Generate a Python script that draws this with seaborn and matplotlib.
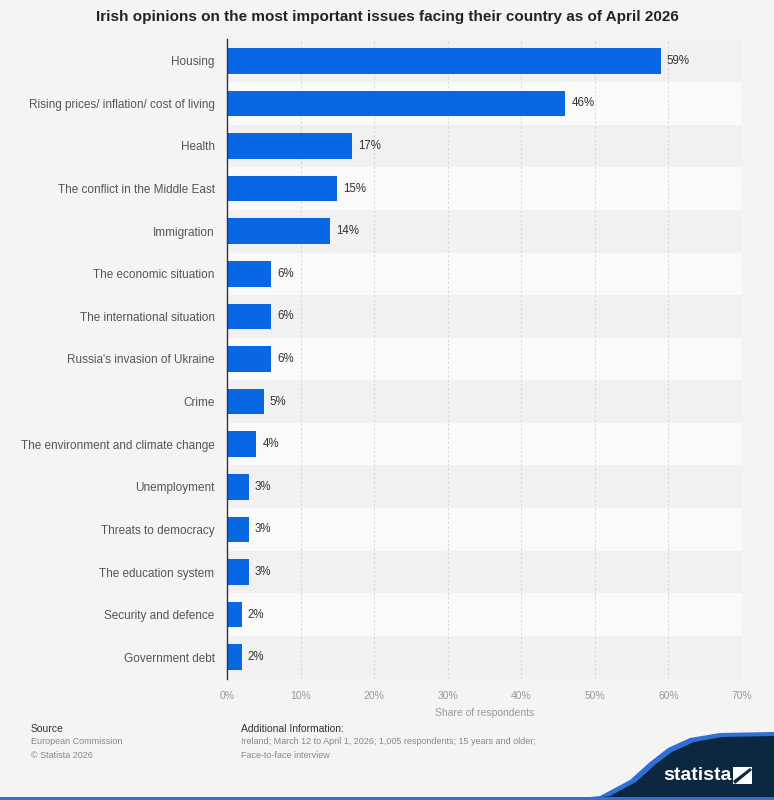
"""Irish opinions on most important issues - statista style horizontal bar chart"""
import matplotlib as mpl
mpl.use('Agg')
import matplotlib.pyplot as plt
from matplotlib.patches import Polygon, Rectangle
import numpy as np
import pandas as pd
import seaborn as sns

issues = ['Housing', 'Rising prices/ inflation/ cost of living', 'Health',
          'The conflict in the Middle East', 'Immigration', 'The economic situation',
          'The international situation', "Russia's invasion of Ukraine", 'Crime',
          'The environment and climate change', 'Unemployment', 'Threats to democracy',
          'The education system', 'Security and defence', 'Government debt']
shares = [59, 46, 17, 15, 14, 6, 6, 6, 5, 4, 3, 3, 3, 2, 2]
x_ticks = [0, 10, 20, 30, 40, 50, 60, 70]

df = pd.DataFrame({'issue': issues, 'share': shares})

sns.set_theme(style='white')
plt.rcParams.update({'font.family': ['Liberation Sans', 'DejaVu Sans'],
                     'font.size': 8})

bg = '#f4f4f4'
bar_blue = '#0868e4'

fig = plt.figure(figsize=(7.74, 8.0), dpi=100, facecolor=bg)
ax = fig.add_axes([227 / 774, 1 - 678.5 / 800, (742 - 227) / 774, (678.5 - 39.5) / 800])
ax.set_facecolor(bg)

# alternating row bands
for i in range(len(issues)):
    ax.axhspan(i - 0.5, i + 0.5, color='#f1f1f1' if i % 2 == 0 else '#fafafa', lw=0, zorder=0)

sns.barplot(data=df, x='share', y='issue', orient='h', color=bar_blue, width=0.6,
            saturation=1, linewidth=0, ax=ax, zorder=3)

for i, v in enumerate(shares):
    ax.text(v + 0.8, i, f'{v}%', va='center', ha='left', fontsize=8.3,
            color='#333333', zorder=4)

ax.set_xlim(0, 70)
ax.set_ylim(len(issues) - 0.5, -0.5)
ax.set_xticks(x_ticks)
ax.set_xticklabels([f'{t}%' for t in x_ticks], color='#999999', fontsize=7.5)
ax.tick_params(axis='x', length=0, pad=9)
ax.tick_params(axis='y', length=0, pad=9, labelsize=8.5, labelcolor='#555555')
for t in x_ticks[1:]:
    ax.axvline(t, color='#d8d8d8', lw=0.8, ls=(0, (2, 2)), zorder=1)
ax.set_ylabel('')
ax.set_xlabel('Share of respondents', color='#999999', fontsize=7.5, labelpad=5)
for s in ['top', 'right', 'bottom']:
    ax.spines[s].set_visible(False)
ax.spines['left'].set_color('#333333')
ax.spines['left'].set_linewidth(1.0)
ax.spines['left'].set_zorder(6)

fig.text(0.5, 1 - 17 / 800, 'Irish opinions on the most important issues facing their country as of April 2026',
         ha='center', va='center', fontsize=11, fontweight='bold', color='#222222')

# footer
fig.text(31 / 774, 1 - 729 / 800, 'Source', fontsize=7.5, color='#333333', va='center')
fig.text(31 / 774, 1 - 742 / 800, 'European Commission', fontsize=6.5, color='#888888', va='center')
fig.text(31 / 774, 1 - 755 / 800, '\u00a9 Statista 2026', fontsize=6.5, color='#888888', va='center')
fig.text(241 / 774, 1 - 729 / 800, 'Additional Information:', fontsize=7.5, color='#333333', va='center')
fig.text(241 / 774, 1 - 742 / 800,
         'Ireland; March 12 to April 1, 2026; 1,005 respondents; 15 years and older;',
         fontsize=6.5, color='#888888', va='center')
fig.text(241 / 774, 1 - 755 / 800, 'Face-to-face interview', fontsize=6.5, color='#888888', va='center')

# statista logo area
def px(x, y):
    return (x / 774, 1 - y / 800)

wave = [px(560, 800), px(600, 796), px(630, 780), px(650, 762), px(668, 748),
        px(690, 738), px(720, 733), px(774, 732), px(774, 800)]
fig.patches.append(Polygon(wave, closed=True, transform=fig.transFigure,
                           facecolor='#2f6fd6', edgecolor='none', zorder=1))
navy = [px(575, 800), px(610, 796), px(636, 782), px(656, 764), px(672, 752),
        px(694, 742), px(722, 737), px(774, 736), px(774, 800)]
fig.patches.append(Polygon(navy, closed=True, transform=fig.transFigure,
                           facecolor='#0c2740', edgecolor='none', zorder=2))
fig.patches.append(Rectangle(px(0, 800), 1, 3 / 800, transform=fig.transFigure,
                             facecolor='#2f6fd6', edgecolor='none', zorder=3))
fig.text(697 / 774, 1 - 775 / 800, 'statista', fontsize=14, fontweight='bold',
         color='white', ha='center', va='center', zorder=4)
fig.patches.append(Polygon([px(733, 767), px(752, 767), px(752, 784), px(733, 784)],
                           closed=True, transform=fig.transFigure,
                           facecolor='white', edgecolor='none', zorder=4))
fig.patches.append(Polygon([px(733, 781), px(750, 768), px(752, 770), px(735, 784)],
                           closed=True, transform=fig.transFigure,
                           facecolor='#0c2740', edgecolor='none', zorder=5))

fig.savefig('out.png', dpi=100, facecolor=bg)
